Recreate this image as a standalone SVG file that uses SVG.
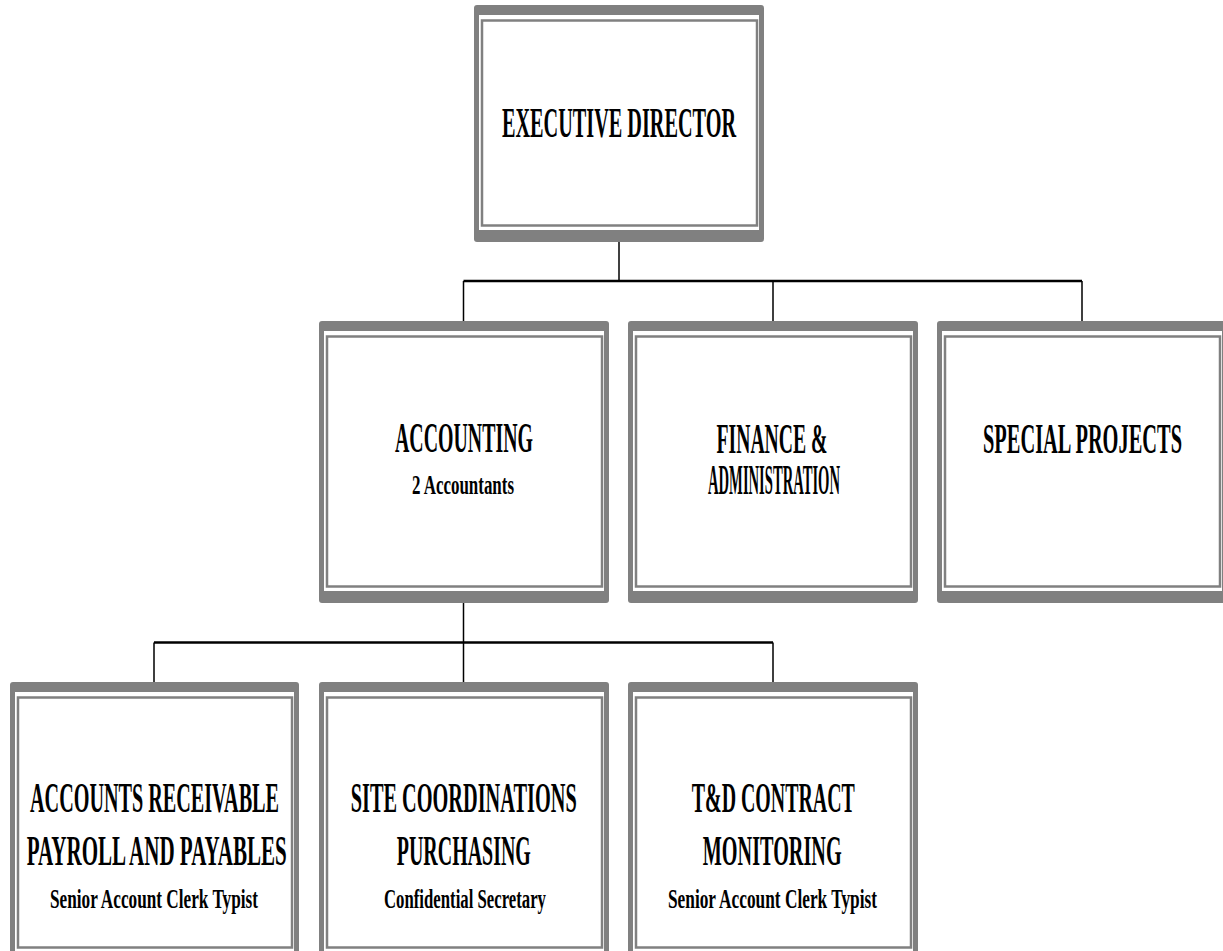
<svg xmlns="http://www.w3.org/2000/svg" width="1223" height="951" viewBox="0 0 1223 951">
<style>
.band{fill:#808080}
.inner{fill:#ffffff}
.line{fill:none;stroke:#808080;stroke-width:2.5}
.t{font-family:"Liberation Serif","Times New Roman",serif;font-weight:bold;fill:#000;text-anchor:middle}
.big{font-size:42px}
.sub{font-size:28px}
.conn{stroke:#000;fill:none}
</style>
<rect x="0" y="0" width="1223" height="951" fill="#ffffff"/>
<g id="connectors">
<path class="conn" stroke-width="1.5" d="M619,242V281"/>
<path class="conn" stroke-width="2.5" d="M463.5,281H1082"/>
<path class="conn" stroke-width="1.5" d="M463.5,281V321M773,281V321M1082,281V321"/>
<path class="conn" stroke-width="1.5" d="M463.5,603V642.5"/>
<path class="conn" stroke-width="2.5" d="M154,642.5H773"/>
<path class="conn" stroke-width="1.5" d="M154,642.5V682M463.5,642.5V682M773,642.5V682"/>
</g>
<g id="exec">
<rect class="band" x="474" y="5" width="290" height="237" rx="3"/>
<rect class="inner" x="479" y="15" width="280" height="215"/>
<rect class="line" x="482" y="20.5" width="275" height="205"/>
<text class="t big" x="619" y="137" textLength="234" lengthAdjust="spacingAndGlyphs">EXECUTIVE DIRECTOR</text>
</g>
<g id="accounting">
<rect class="band" x="319" y="321" width="290" height="282" rx="3"/>
<rect class="inner" x="324" y="331" width="280" height="260"/>
<rect class="line" x="327" y="336.5" width="275" height="250"/>
<text class="t big" x="464" y="452" textLength="138" lengthAdjust="spacingAndGlyphs">ACCOUNTING</text>
<text class="t sub" x="463" y="494" textLength="102" lengthAdjust="spacingAndGlyphs">2 Accountants</text>
</g>
<g id="finance">
<rect class="band" x="628" y="321" width="290" height="282" rx="3"/>
<rect class="inner" x="633" y="331" width="280" height="260"/>
<rect class="line" x="636" y="336.5" width="275" height="250"/>
<text class="t big" x="772" y="453" textLength="111" lengthAdjust="spacingAndGlyphs">FINANCE &amp;</text>
<text class="t big" x="774" y="494" textLength="132" lengthAdjust="spacingAndGlyphs">ADMINISTRATION</text>
</g>
<g id="special">
<rect class="band" x="937" y="321" width="290" height="282" rx="3"/>
<rect class="inner" x="942" y="331" width="280" height="260"/>
<rect class="line" x="945" y="336.5" width="275" height="250"/>
<text class="t big" x="1082.5" y="453" textLength="199" lengthAdjust="spacingAndGlyphs">SPECIAL PROJECTS</text>
</g>
<g id="receivable">
<rect class="band" x="10" y="682" width="289" height="282" rx="3"/>
<rect class="inner" x="15" y="692" width="279" height="260"/>
<rect class="line" x="18" y="697.5" width="274" height="250"/>
<text class="t big" x="154.5" y="812" textLength="249" lengthAdjust="spacingAndGlyphs">ACCOUNTS RECEIVABLE</text>
<text class="t big" x="156.7" y="865" textLength="260" lengthAdjust="spacingAndGlyphs">PAYROLL AND PAYABLES</text>
<text class="t sub" x="154" y="908" textLength="208" lengthAdjust="spacingAndGlyphs">Senior Account Clerk Typist</text>
</g>
<g id="site">
<rect class="band" x="319" y="682" width="290" height="282" rx="3"/>
<rect class="inner" x="324" y="692" width="280" height="260"/>
<rect class="line" x="327" y="697.5" width="275" height="250"/>
<text class="t big" x="463.7" y="812" textLength="226" lengthAdjust="spacingAndGlyphs">SITE COORDINATIONS</text>
<text class="t big" x="463.8" y="865" textLength="134" lengthAdjust="spacingAndGlyphs">PURCHASING</text>
<text class="t sub" x="465" y="908" textLength="162" lengthAdjust="spacingAndGlyphs">Confidential Secretary</text>
</g>
<g id="tdcontract">
<rect class="band" x="628" y="682" width="290" height="282" rx="3"/>
<rect class="inner" x="633" y="692" width="280" height="260"/>
<rect class="line" x="636" y="697.5" width="275" height="250"/>
<text class="t big" x="773.3" y="812" textLength="163" lengthAdjust="spacingAndGlyphs">T&amp;D CONTRACT</text>
<text class="t big" x="772.2" y="865" textLength="139" lengthAdjust="spacingAndGlyphs">MONITORING</text>
<text class="t sub" x="772.5" y="908" textLength="209" lengthAdjust="spacingAndGlyphs">Senior Account Clerk Typist</text>
</g>
</svg>
